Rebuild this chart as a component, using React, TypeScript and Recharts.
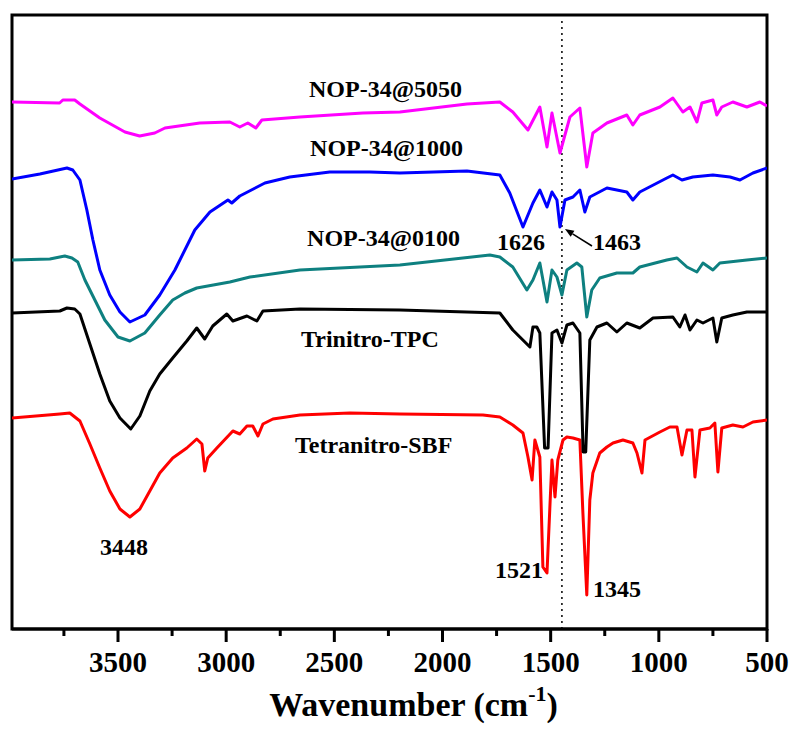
import React from "react";
import { LineChart, Line, XAxis, YAxis, ReferenceLine, ReferenceDot, ReferenceArea } from "recharts";

const FONT = "'Liberation Serif', 'Times New Roman', serif";

// FTIR spectra: wavenumber (cm-1) and offset transmittance (a.u.)
const nop5050Wn = [3990, 3770, 3755, 3700, 3676, 3584, 3468, 3400, 3330, 3283, 3122, 2983, 2937, 2900, 2863, 2835, 2659, 2368, 2197, 1887, 1735, 1675, 1605, 1550, 1517, 1494, 1457, 1411, 1365, 1333, 1305, 1240, 1148, 1120, 1088, 995, 935, 889, 856, 824, 801, 750, 732, 709, 658, 593, 533, 500];
const nop5050T = [527, 526, 529, 529, 525, 511, 497, 493, 496, 501, 506, 507, 502, 506, 501, 509, 512, 516, 517, 525, 527, 517, 499, 522, 482, 516, 476, 512, 521, 462, 496, 506, 514, 504, 514, 522, 531, 517, 522, 507, 526, 529, 514, 522, 527, 522, 527, 523];

const nop1000Wn = [3990, 3861, 3736, 3709, 3676, 3644, 3616, 3584, 3538, 3491, 3445, 3376, 3307, 3237, 3145, 3075, 2992, 2974, 2937, 2821, 2706, 2521, 2336, 2197, 1887, 1735, 1689, 1628, 1582, 1550, 1517, 1494, 1471, 1457, 1434, 1397, 1365, 1342, 1319, 1240, 1148, 1120, 1088, 963, 935, 893, 843, 750, 671, 625, 565, 500];
const nop1000T = [450, 455, 461, 459, 449, 419, 389, 359, 334, 317, 307, 314, 334, 359, 399, 417, 429, 426, 433, 446, 452, 457, 457, 456, 458, 454, 436, 402, 426, 439, 422, 437, 429, 402, 429, 432, 439, 417, 432, 441, 437, 429, 437, 451, 454, 449, 452, 454, 452, 449, 456, 461];

const nop0100Wn = [3990, 3815, 3746, 3713, 3686, 3653, 3607, 3561, 3500, 3445, 3376, 3307, 3247, 3191, 3136, 2983, 2890, 2659, 2197, 1781, 1735, 1675, 1610, 1582, 1550, 1517, 1494, 1471, 1448, 1425, 1379, 1356, 1333, 1310, 1273, 1194, 1120, 1088, 963, 916, 870, 824, 796, 750, 718, 593, 500];
const nop0100T = [369, 370, 373, 371, 367, 349, 329, 309, 292, 288, 296, 314, 329, 336, 341, 347, 352, 359, 364, 374, 372, 362, 339, 349, 366, 327, 359, 352, 334, 359, 366, 362, 312, 339, 351, 356, 356, 362, 369, 371, 362, 357, 366, 359, 366, 369, 371];

const tpcWn = [3990, 3769, 3736, 3700, 3676, 3630, 3584, 3538, 3491, 3441, 3399, 3353, 3307, 3247, 3182, 3136, 3099, 3062, 2997, 2969, 2904, 2858, 2830, 2659, 2197, 1735, 1675, 1596, 1582, 1564, 1550, 1528, 1512, 1494, 1471, 1448, 1425, 1397, 1365, 1350, 1338, 1319, 1286, 1240, 1194, 1148, 1088, 1027, 935, 903, 879, 856, 824, 796, 750, 732, 709, 658, 593, 500];
const tpcT = [316, 318, 321, 320, 315, 285, 255, 228, 211, 200, 213, 238, 255, 271, 288, 301, 290, 303, 315, 308, 313, 308, 318, 320, 319, 316, 299, 282, 302, 302, 296, 181, 181, 296, 299, 286, 304, 306, 296, 177, 177, 289, 302, 306, 297, 306, 301, 311, 312, 302, 314, 299, 309, 306, 311, 287, 311, 314, 317, 317];

const sbfWn = [3990, 3769, 3723, 3676, 3630, 3584, 3538, 3491, 3445, 3399, 3353, 3307, 3247, 3182, 3136, 3112, 3099, 3085, 3043, 2969, 2937, 2904, 2877, 2853, 2830, 2784, 2659, 2428, 2197, 1813, 1735, 1675, 1628, 1605, 1586, 1573, 1550, 1536, 1517, 1513, 1494, 1480, 1467, 1443, 1425, 1397, 1365, 1351, 1333, 1319, 1305, 1273, 1240, 1212, 1166, 1120, 1101, 1078, 1064, 995, 949, 916, 893, 870, 847, 833, 810, 764, 741, 727, 709, 658, 611, 565, 500];
const sbfT = [211, 215, 216, 208, 185, 161, 138, 120, 112, 120, 138, 156, 171, 181, 190, 185, 158, 171, 181, 198, 195, 203, 203, 193, 205, 210, 214, 216, 215, 214, 212, 204, 196, 172, 149, 189, 172, 62, 56, 76, 169, 132, 169, 189, 192, 191, 189, 116, 34, 129, 156, 176, 182, 186, 189, 186, 176, 156, 189, 197, 202, 202, 174, 199, 199, 152, 199, 201, 206, 157, 201, 204, 202, 207, 209];

const xTicks = [500, 750, 1000, 1250, 1500, 1750, 2000, 2250, 2500, 2750, 3000, 3250, 3500, 3750];

const toPoints = (wn: number[], t: number[]) => wn.map((w, i) => ({ wn: w, t: t[i] }));

// drawn bottom first so the upper traces sit on top
const series = [
  { name: "Tetranitro-SBF", color: "#ff0000", data: toPoints(sbfWn, sbfT) },
  { name: "Trinitro-TPC", color: "#000000", data: toPoints(tpcWn, tpcT) },
  { name: "NOP-34@0100", color: "#0e8080", data: toPoints(nop0100Wn, nop0100T) },
  { name: "NOP-34@1000", color: "#0000ff", data: toPoints(nop1000Wn, nop1000T) },
  { name: "NOP-34@5050", color: "#ff00ff", data: toPoints(nop5050Wn, nop5050T) },
];

// text annotations, anchored in data units (left edge / baseline)
const annotations = [
  { text: "NOP-34@5050", wn: 2617, t: 532 },
  { text: "NOP-34@1000", wn: 2612, t: 473 },
  { text: "NOP-34@0100", wn: 2626, t: 383 },
  { text: "Trinitro-TPC", wn: 2654, t: 282 },
  { text: "Tetranitro-SBF", wn: 2682, t: 176 },
  { text: "3448", wn: 3583, t: 74 },
  { text: "1626", wn: 1748, t: 379 },
  { text: "1463", wn: 1304, t: 379 },
  { text: "1521", wn: 1757, t: 51 },
  { text: "1345", wn: 1304, t: 32 },
];

const WnTick = ({ x, y, payload }: any) => {
  const major = payload.value % 500 === 0;
  return (
    <g>
      <line x1={x} y1={y} x2={x} y2={y + (major ? 13 : 7)} stroke="#000" strokeWidth={3} />
      {major && (
        <text x={x} y={y + 43} textAnchor="middle" fontFamily={FONT} fontWeight="bold" fontSize={29} fill="#000">
          {payload.value}
        </text>
      )}
    </g>
  );
};

const AxisTitle = ({ viewBox }: any) => (
  <text
    x={viewBox.x + viewBox.width / 2 + 24}
    y={viewBox.y + 87}
    textAnchor="middle"
    fontFamily={FONT}
    fontWeight="bold"
    fontSize={34}
    fill="#000"
  >
    <tspan>Wavenumber (cm</tspan>
    <tspan dy={-15} fontSize={22}>-1</tspan>
    <tspan dy={15}>)</tspan>
  </text>
);

const Anno = ({ viewBox, text }: any) => (
  <text x={viewBox.x} y={viewBox.y} fontFamily={FONT} fontWeight="bold" fontSize={24} fill="#000">
    {text}
  </text>
);

const Arrow = ({ x1, y1, x2, y2 }: any) => {
  const a = Math.atan2(y2 - y1, x2 - x1);
  const len = 9;
  const half = 3.5;
  const bx = x2 - len * Math.cos(a);
  const by = y2 - len * Math.sin(a);
  const px = -Math.sin(a) * half;
  const py = Math.cos(a) * half;
  return (
    <g>
      <line x1={x1} y1={y1} x2={bx} y2={by} stroke="#000" strokeWidth={1.5} />
      <polygon points={`${x2},${y2} ${bx + px},${by + py} ${bx - px},${by - py}`} fill="#000" />
    </g>
  );
};

export default function App() {
  return (
    <div style={{ position: "absolute", left: 0, top: 0, background: "#fff" }}>
      <LineChart width={795} height={729} margin={{ top: 15, right: 28, bottom: 0, left: 12 }}>
        <XAxis
          dataKey="wn"
          type="number"
          domain={[500, 3990]}
          reversed
          allowDataOverflow
          ticks={xTicks}
          interval={0}
          tick={<WnTick />}
          tickLine={false}
          tickSize={0}
          tickMargin={0}
          axisLine={{ stroke: "#000", strokeWidth: 3 }}
          height={100}
          label={<AxisTitle />}
        />
        <YAxis type="number" domain={[0, 614]} allowDataOverflow hide />
        <ReferenceArea x1={500} x2={3990} y1={0} y2={614} fill="none" stroke="#000" strokeWidth={3} />
        <ReferenceLine
          segment={[{ x: 1448, y: 0 }, { x: 1448, y: 609 }]}
          stroke="#000"
          strokeWidth={1.5}
          strokeDasharray="2 4"
        />
        {series.map((s) => (
          <Line
            key={s.name}
            name={s.name}
            data={s.data}
            dataKey="t"
            type="linear"
            stroke={s.color}
            strokeWidth={3}
            strokeLinejoin="round"
            dot={false}
            isAnimationActive={false}
          />
        ))}
        <ReferenceLine segment={[{ x: 1309, y: 383 }, { x: 1434, y: 400 }]} shape={<Arrow />} />
        {annotations.map((a) => (
          <ReferenceDot
            key={a.text}
            x={a.wn}
            y={a.t}
            r={0}
            fill="none"
            stroke="none"
            label={<Anno text={a.text} />}
          />
        ))}
      </LineChart>
    </div>
  );
}
